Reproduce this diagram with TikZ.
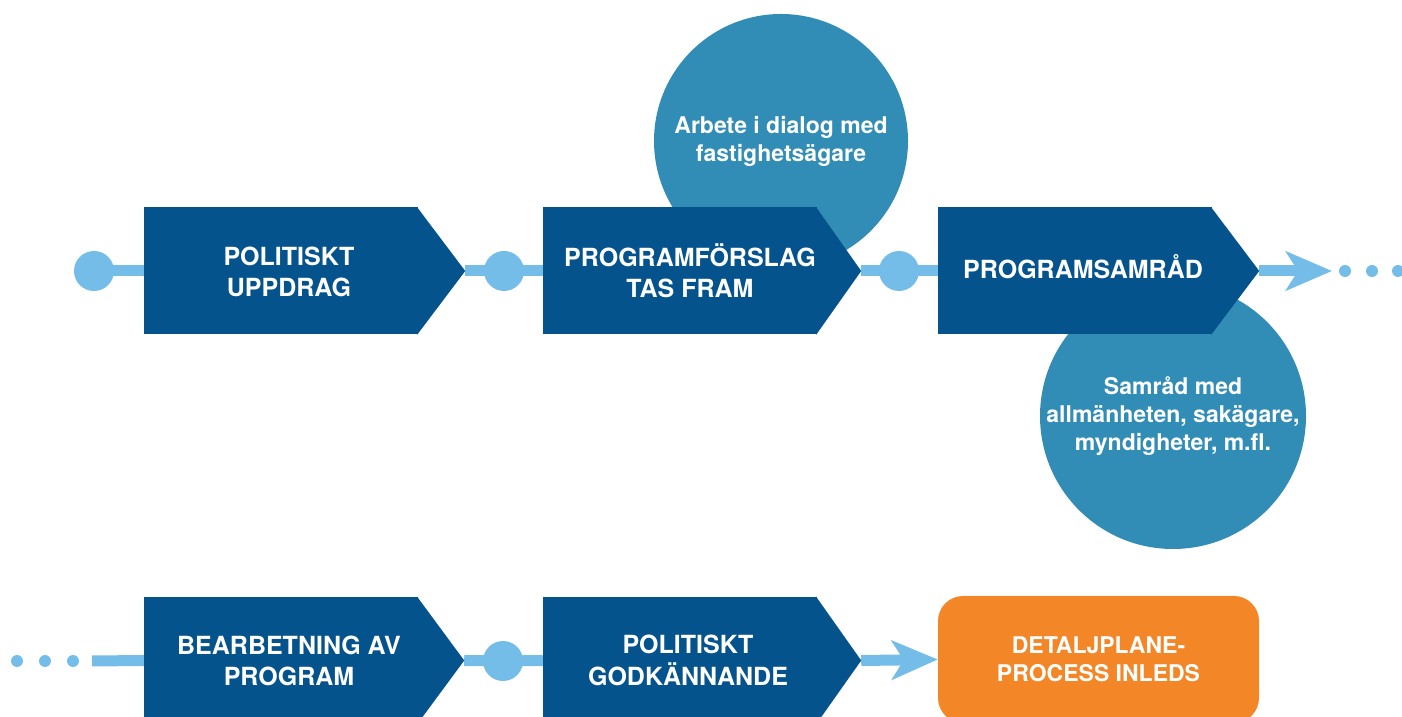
\documentclass[tikz,border=0pt]{standalone}
\usepackage{fontspec}
\setmainfont{TeX Gyre Heros}
\usetikzlibrary{arrows.meta,backgrounds,calc}
\definecolor{dblue}{HTML}{04538C}
\definecolor{cblue}{HTML}{318DB5}
\definecolor{lblue}{HTML}{74BDE9}
\definecolor{orng}{HTML}{F38626}
\newcommand{\boxtext}[2][0pt]{\hspace*{16pt}\raisebox{#1}[\height][\depth]{\begin{tabular}{@{}c@{}}#2\end{tabular}}}
\tikzset{
  stepbox/.style={fill=dblue, text=white, minimum width=274pt, minimum height=127pt, inner sep=0pt,
    font=\bfseries\fontsize{25}{31}\selectfont},
  steptip/.style={fill=dblue},
  bubble/.style={circle, fill=cblue, text=white, inner sep=0pt, align=center,
    font=\bfseries\fontsize{23}{28}\selectfont},
  bigdot/.style={circle, fill=lblue, minimum size=40pt, inner sep=0pt},
  smalldot/.style={circle, fill=lblue, minimum size=12pt, inner sep=0pt},
  flow/.style={draw=lblue, line width=11pt},
  flowarrow/.style={flow, -{Stealth[length=46pt,width=39pt,inset=12pt]}},
  endbox/.style={fill=orng, rounded corners=25pt, text=white, minimum width=321pt, minimum height=127pt,
    inner sep=0pt, align=center, font=\bfseries\fontsize{23}{28}\selectfont},
}
\begin{document}
\begin{tikzpicture}[x=1pt,y=1pt]
\useasboundingbox (0,0) rectangle (1402,717);
\clip (0,0) rectangle (1402,717);
% bubbles
\node[bubble, minimum size=254pt] (c1) at (781,576) {Arbete i dialog med\\fastighetsägare};
\node[bubble, minimum size=266pt] (c2) at (1173,301) {Samråd med\\allmänheten, sakägare,\\myndigheter, m.fl.};
% row 1 boxes
\node[stepbox] (b1) at (281,446) {\boxtext[-4pt]{POLITISKT\\UPPDRAG}};
\fill[steptip] ([xshift=-1pt]b1.north east) -- ([xshift=47pt]b1.east) coordinate (t1) -- ([xshift=-1pt]b1.south east) -- cycle;
\node[stepbox] (b2) at (680,446) {\hspace*{4pt}\boxtext[-4pt]{PROGRAMFÖRSLAG\\TAS FRAM}};
\fill[steptip] ([xshift=-1pt]b2.north east) -- ([xshift=44pt]b2.east) coordinate (t2) -- ([xshift=-1pt]b2.south east) -- cycle;
\node[stepbox] (b3) at (1075,446) {\boxtext{PROGRAMSAMRÅD}};
\fill[steptip] ([xshift=-1pt]b3.north east) -- ([xshift=47pt]b3.east) coordinate (t3) -- ([xshift=-1pt]b3.south east) -- cycle;
% row 2 boxes
\node[stepbox] (b4) at (281,56.5) {\boxtext[-3pt]{BEARBETNING AV\\PROGRAM}};
\fill[steptip] ([xshift=-1pt]b4.north east) -- ([xshift=46pt]b4.east) coordinate (t4) -- ([xshift=-1pt]b4.south east) -- cycle;
\node[stepbox] (b5) at (680,56.5) {\boxtext[-3pt]{POLITISKT\\GODKÄNNANDE}};
\fill[steptip] ([xshift=-1pt]b5.north east) -- ([xshift=44pt]b5.east) coordinate (t5) -- ([xshift=-1pt]b5.south east) -- cycle;
\node[endbox] (o1) at (1098.5,57.5) {DETALJPLANE-\\PROCESS INLEDS};
% dots
\node[bigdot] (d1) at (94,446) {};
\node[bigdot] (d2) at (504,446) {};
\node[bigdot] (d3) at (899,446) {};
\node[bigdot] (d5) at (503,56) {};
\node[smalldot] (r1) at (1345,446) {};
\node[smalldot] (r2) at (1372,446) {};
\node[smalldot] (r3) at (1398,446) {};
\node[smalldot] (l1) at (17,56) {};
\node[smalldot] (l2) at (45,56) {};
\node[smalldot] (l3) at (73,56) {};
\coordinate (e1) at (1332,446);
\coordinate (s0) at (92,56);
% connectors
\begin{pgfonlayer}{background}
\draw[flow] (d1.center) -- (b1.west);
\draw[flow] (t1) -- (d2.center) -- (b2.west);
\draw[flow] (t2) -- (d3.center) -- (b3.west);
\draw[flowarrow] (t3) -- (e1);
\draw[flow] (s0) -- (b4.west);
\draw[flow] (t4) -- (d5.center) -- (b5.west);
\draw[flowarrow] (t5) -- (o1.west);
\end{pgfonlayer}
\end{tikzpicture}
\end{document}
